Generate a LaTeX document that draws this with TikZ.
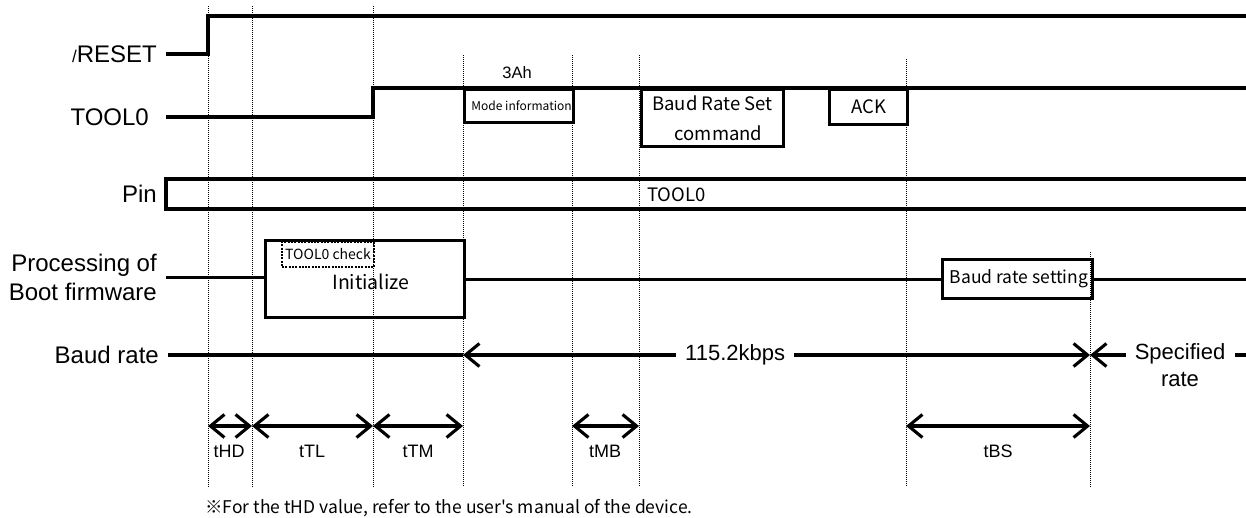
\documentclass[tikz,border=0pt]{standalone}
\usepackage{fontspec}
\setmainfont{Liberation Sans}
\newfontfamily\gothic{Noto Sans CJK JP}
\usetikzlibrary{arrows.meta}

\def \lw {3.1pt}
\def \yline {355}
\def \ydim {426}
\def \ydimlbl {451}

\tikzset{
  sig/.style={line width=\lw},
  guide/.style={line width=0.9pt, dash pattern=on 1pt off 1pt},
  lbl/.style={font=\fontsize{24}{29}\selectfont, anchor=east, inner xsep=9pt, inner ysep=1pt, align=right},
  tlbl/.style={font=\fontsize{18}{22}\selectfont, inner sep=0pt},
  gtxt/.style={font=\gothic\fontsize{18.5}{30}\selectfont, inner sep=0pt},
  box/.style={draw, line width=\lw, inner sep=0pt, anchor=north west, align=center}
}

\begin{document}
\begin{tikzpicture}[x=1pt, y=-1pt, >={Straight Barb[length=14pt,width=23pt]}]
\useasboundingbox (0,0) rectangle (1246,517);
% dotted guides
\foreach \x in {208,252,373} \draw[guide] (\x,6) -- (\x,487);
\foreach \x in {463,572,639} \draw[guide] (\x,55) -- (\x,487);
\draw[guide] (906,59) -- (906,487);
\draw[guide] (1090,252) -- (1090,487);

% /RESET
\node[lbl] (reset) at (166,54) {{\fontsize{17}{17}\selectfont /}RESET};
\draw[sig] (reset.east) -- (208,54) -- (208,16) -- (1246,16);

% TOOL0
\node[lbl, inner xsep=17pt] (tool) at (166,117) {TOOL0};
\draw[sig] (tool.east) -- (373,117) -- (373,88) -- (1246,88);
\node[box, minimum width=109, minimum height=33, font=\gothic\fontsize{12}{14}\selectfont] (mode) at (463,88) {\hspace*{5pt}Mode information};
\node[font=\fontsize{16.5}{20}\selectfont, inner sep=0pt] (ah) at (517,73) {3Ah};
\node[box, gtxt, minimum width=142, minimum height=57] (brs) at (640,88) {Baud Rate Set\\\hspace*{12pt}command};
\node[box, gtxt, minimum width=78, minimum height=35] (ack) at (828,88) {ACK};

% Pin
\node[lbl] (pin) at (166,194) {Pin};
\draw[sig] (1246,179) -- (166,179) -- (166,209) -- (1246,209);
\node[gtxt, anchor=west] (pintxt) at (647,195) {TOOL0};

% Processing of Boot firmware
\node[lbl] (proc) at (166,277.5) {Processing of\\Boot firmware};
\node[box, minimum width=199, minimum height=77] (init) at (264,239) {};
\node[font=\gothic\fontsize{19.5}{22}\selectfont, inner sep=0pt] (inittxt) at (371,282) {Initialize};
\node[draw, dash pattern=on 2pt off 1.3pt, line width=2pt, minimum width=92, minimum height=25, anchor=north west, inner sep=0pt, font=\gothic\fontsize{14}{16}\selectfont] (chk) at (281,241) {TOOL0 check};
\node[box, minimum width=150, minimum height=39, font=\gothic\fontsize{17.5}{20}\selectfont] (bset) at (941,258) {\hspace*{3pt}Baud rate setting};
\draw[sig] (proc.east) -- (proc.east -| init.west);
\draw[sig] (init.east) -- (bset.west);
\draw[sig] (bset.east) -- (bset.east -| 1246,0);

% Baud rate
\node[lbl] (baud) at (168,\yline) {Baud rate};
\coordinate (b0) at (463,\yline);
\coordinate (b1) at (1090,\yline);
\draw[sig] (baud.east) -- (b0);
\draw[sig, <->] (b0) -- node[pos=0.434, fill=white, inner xsep=9pt, font=\fontsize{22}{26}\selectfont] (kbps) {115.2kbps} (b1);
\node[align=center, font=\fontsize{22}{27}\selectfont, inner sep=0pt] (spec) at (1180,365.5) {Specified\\rate};
\draw[sig, ->] ([xshift=-9pt]spec.west |- b1) -- (b1);
\draw[sig] (1235,\yline) -- (1246,\yline);

% timing
\foreach \a/\b/\t/\lx in {208/252/tHD/229, 252/373/tTL/312, 373/463/tTM/418, 572/639/tMB/605, 906/1090/tBS/998} {
  \draw[sig, <->] (\a,\ydim) -- (\b,\ydim);
  \node[tlbl] (n\t) at (\lx,\ydimlbl) {\t};
}

% note
\node[anchor=west, inner sep=0pt, font=\gothic\fontsize{17.5}{20}\selectfont] (note) at (205,508) {※For the tHD value, refer to the user's manual of the device.};
\end{tikzpicture}
\end{document}
